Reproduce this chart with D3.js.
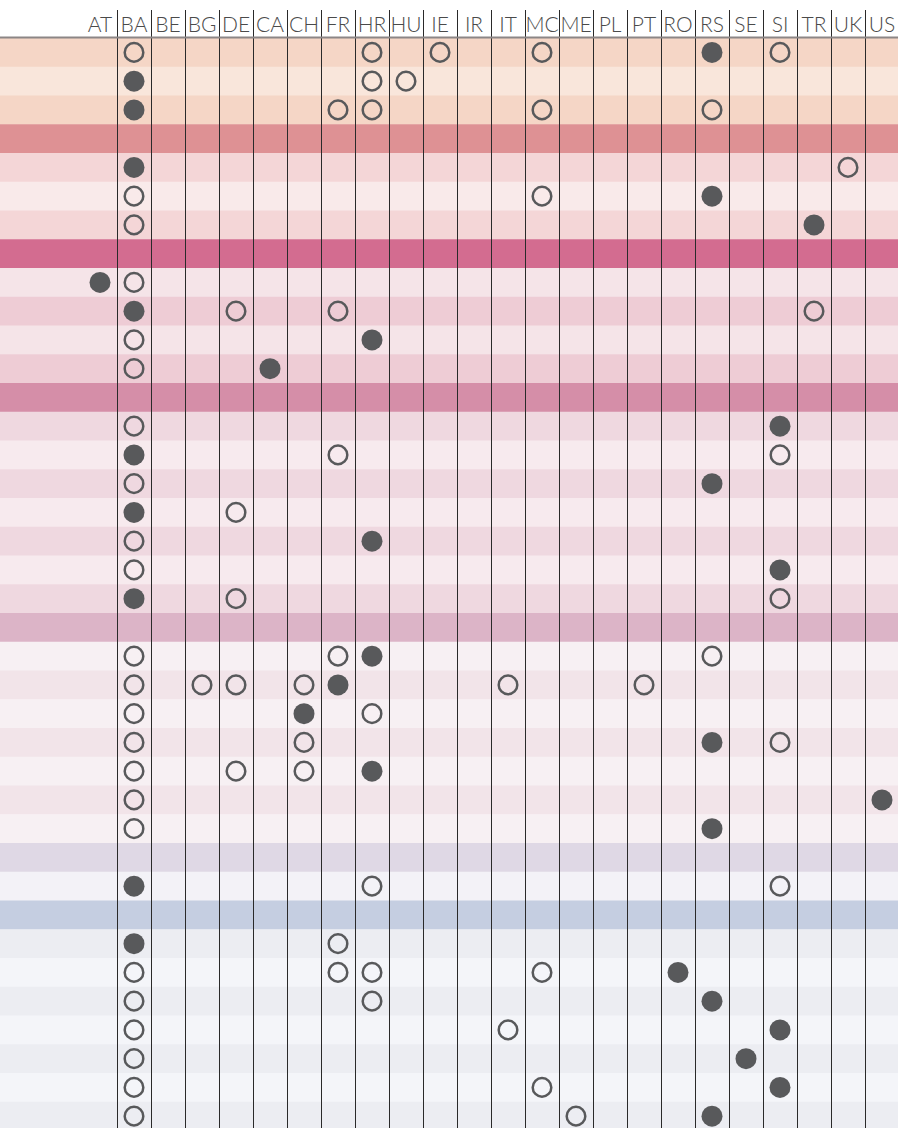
<!DOCTYPE html>
<html>
<head>
<meta charset="utf-8">
<script src="https://cdn.jsdelivr.net/npm/d3@7"></script>
<style>
  body { margin: 0; background: #fff; }
  svg { display: block; }
</style>
</head>
<body>
<div id="chart"></div>
<script>
// column headers (country codes)
const countries = ["AT","BA","BE","BG","DE","CA","CH","FR","HR","HU","IE","IR",
                   "IT","MC","ME","PL","PT","RO","RS","SE","SI","TR","UK","US"];

// row group for every row, "band" rows are the group header strips
const rowGroup = [0,0,0, 1,1,1,1, 2,2,2,2,2, 3,3,3,3,3,3,3,3, 4,4,4,4,4,4,4,4, 5,5, 6,6,6,6,6,6,6,6];
const rowIsBand = [0,0,0, 1,0,0,0, 1,0,0,0,0, 1,0,0,0,0,0,0,0, 1,0,0,0,0,0,0,0, 1,0, 1,0,0,0,0,0,0,0];

// open circles per row
const openDots = [
  ["BA","HR","IE","MC","SI"], ["HR","HU"], ["FR","HR","MC","RS"], [],
  ["UK"], ["BA","MC"], ["BA"], [],
  ["BA"], ["DE","FR","TR"], ["BA"], ["BA"], [],
  ["BA"], ["FR","SI"], ["BA"], ["DE"], ["BA"], ["BA"], ["DE","SI"], [],
  ["BA","FR","RS"], ["BA","BG","DE","CH","IT","PT"], ["BA","HR"], ["BA","CH","SI"],
  ["BA","DE","CH"], ["BA"], ["BA"], [],
  ["HR","SI"], [],
  ["FR"], ["BA","FR","HR","MC"], ["BA","HR"], ["BA","IT"], ["BA"], ["BA","MC"], ["BA","ME"]
];

// filled circles per row
const filledDots = [
  ["RS"], ["BA"], ["BA"], [],
  ["BA"], ["RS"], ["TR"], [],
  ["AT"], ["BA"], ["HR"], ["CA"], [],
  ["SI"], ["BA"], ["RS"], ["BA"], ["HR"], ["SI"], ["BA"], [],
  ["HR"], ["FR"], ["CH"], ["RS"], ["HR"], ["US"], ["RS"], [],
  ["BA"], [],
  ["BA"], ["RO"], ["RS"], ["SI"], ["SE"], ["SI"], ["RS"]
];

// colours per group: band, dark stripe, light stripe, first row dark?
const groupColors = [
  {band: "#f0c4ad", dark: "#f5d6c6", light: "#f9e6db", startDark: true},
  {band: "#de9194", dark: "#f4d6d7", light: "#f9eaea", startDark: true},
  {band: "#d36c90", dark: "#eeccd5", light: "#f5e4e8", startDark: false},
  {band: "#d58ea8", dark: "#efd8e0", light: "#f7eaee", startDark: true},
  {band: "#dcb4c7", dark: "#f2e4e9", light: "#f7f0f3", startDark: false},
  {band: "#dfd8e5", dark: "#eeecf3", light: "#f3f2f7", startDark: false},
  {band: "#c5cee1", dark: "#ecedf2", light: "#f4f5f9", startDark: true}
];

const W = 898, H = 1128;
const topY = 38, rowH = 28.75;
const dotColor = "#58595b";

const svg = d3.select("#chart").append("svg")
    .attr("width", W)
    .attr("height", H);

const x = d3.scaleBand()
    .domain(countries)
    .range([83, 83 + 34 * countries.length]);

const y = d3.scaleBand()
    .domain(d3.range(rowGroup.length))
    .range([topY, topY + rowH * rowGroup.length]);

// stripe colour for each row
let idxInGroup = 0;
const rowFill = rowGroup.map((g, i) => {
    if (i > 0 && rowGroup[i - 1] !== g) idxInGroup = 0;
    if (rowIsBand[i]) return groupColors[g].band;
    const c = groupColors[g];
    const dark = (idxInGroup % 2 === 0) === c.startDark;
    idxInGroup++;
    return dark ? c.dark : c.light;
});

// row backgrounds
svg.append("g")
    .selectAll("rect")
    .data(d3.range(rowGroup.length))
    .join("rect")
    .attr("x", 0)
    .attr("y", d => y(d))
    .attr("width", W)
    .attr("height", y.bandwidth() + 0.5)
    .attr("fill", d => rowFill[d]);

// column separators
svg.append("g")
    .selectAll("line")
    .data(countries.slice(1))
    .join("line")
    .attr("x1", d => Math.round(x(d)) + 0.5)
    .attr("x2", d => Math.round(x(d)) + 0.5)
    .attr("y1", 10)
    .attr("y2", H)
    .attr("stroke", "#2a2a2a")
    .attr("stroke-width", 1);

// header labels
const header = svg.append("g")
    .attr("transform", `translate(0,${topY})`)
    .call(d3.axisTop(x).tickSize(0).tickPadding(6));
header.select(".domain").remove();
header.selectAll("text")
    .style("font-family", "Lato, 'Open Sans', sans-serif")
    .style("font-weight", 300)
    .style("font-size", "21px")
    .attr("fill", "#4a4a4a");

// header rule
svg.append("line")
    .attr("x1", 0)
    .attr("x2", W)
    .attr("y1", topY - 0.5)
    .attr("y2", topY - 0.5)
    .attr("stroke", "#8c8686")
    .attr("stroke-width", 2);

// dots
const dots = [];
openDots.forEach((list, r) => list.forEach(c => dots.push({row: r, c: c, filled: false})));
filledDots.forEach((list, r) => list.forEach(c => dots.push({row: r, c: c, filled: true})));

svg.append("g")
    .selectAll("circle")
    .data(dots)
    .join("circle")
    .attr("cx", d => x(d.c) + x.bandwidth() / 2)
    .attr("cy", d => y(d.row) + y.bandwidth() / 2)
    .attr("r", d => d.filled ? 10.5 : 9.3)
    .attr("fill", d => d.filled ? dotColor : "none")
    .attr("stroke", d => d.filled ? "none" : dotColor)
    .attr("stroke-width", 2.5);
</script>
</body>
</html>
